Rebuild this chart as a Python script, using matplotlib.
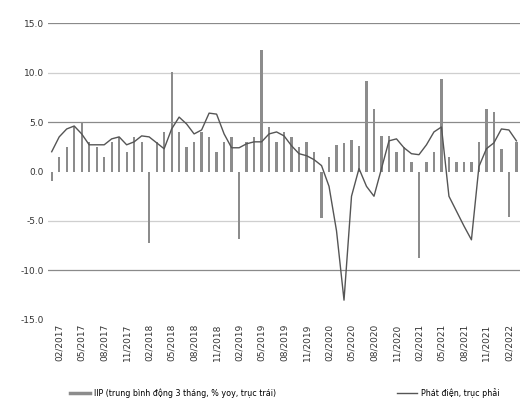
import matplotlib
matplotlib.use("Agg")
import matplotlib.pyplot as plt
from matplotlib.lines import Line2D
import numpy as np

# Monthly series, Jan 2017 .. Mar 2022
months = [f"{m:02d}/{y}" for y in range(2017, 2023) for m in range(1, 13)][:63]

bar_values = [
    -1.0, 1.5, 2.5, 4.5, 5.0, 3.0, 2.5, 1.5, 3.0, 3.5, 2.0, 3.5,
    3.0, -7.2, 3.0, 4.0, 10.1, 4.0, 2.5, 3.0, 4.0, 3.5, 2.0, 3.0,
    3.5, -6.8, 3.0, 3.5, 12.3, 4.5, 3.0, 4.0, 3.5, 2.5, 3.0, 2.0,
    -4.7, 1.5, 2.7, 2.9, 3.2, 2.6, 9.1, 6.3, 3.6, 3.6, 2.0, 2.5,
    1.0, -8.7, 1.0, 2.0, 9.3, 1.5, 1.0, 1.0, 1.0, 3.0, 6.3, 6.0,
    2.3, -4.6, 3.0,
]

line_values = [
    2.0, 3.5, 4.3, 4.6, 3.8, 2.7, 2.7, 2.7, 3.3, 3.5, 2.7, 3.0,
    3.6, 3.5, 2.9, 2.3, 4.3, 5.5, 4.8, 3.8, 4.2, 5.9, 5.8, 3.8,
    2.4, 2.4, 2.8, 3.0, 3.0, 3.8, 4.0, 3.6, 2.6, 1.8, 1.6, 1.2,
    0.6, -1.5, -6.0, -13.0, -2.5, 0.3, -1.5, -2.5, 0.3, 3.1, 3.3, 2.4,
    1.8, 1.7, 2.7, 4.0, 4.5, -2.5, -4.0, -5.5, -6.9, 0.5, 2.3, 2.9,
    4.3, 4.2, 3.1,
]

tick_idx = list(range(1, 63, 3))
tick_labels = [months[i] for i in tick_idx]
y_ticks = [15, 10, 5, 0, -5, -10, -15]

legend_labels = ["IIP (trung bình động 3 tháng, % yoy, trục trái)",
                 "Phát điện, trục phải"]

plt.rcParams['font.family'] = ['DejaVu Sans']

fig = plt.figure(figsize=(5.27, 4.05), dpi=100)
ax = fig.add_axes([0.091, 0.210, 0.896, 0.733])

x = np.arange(len(months))
ax.bar(x, bar_values, width=0.3, color="#8c8c8c", zorder=2)
ax.plot(x, line_values, color="#555555", lw=1.0, zorder=3)

ax.set_xlim(-0.5, 62.5)
ax.set_ylim(-15, 15)
ax.set_yticks(y_ticks)
ax.set_yticklabels([f"{v:.1f}" for v in y_ticks], fontsize=6.5, color="#333333")
ax.set_xticks(tick_idx)
ax.set_xticklabels(tick_labels, rotation=90, fontsize=6.5, color="#333333")
ax.tick_params(axis="both", length=0, pad=3)

for v in y_ticks:
    if v in (15, 5, -10):
        ax.axhline(v, color="#8a8a8a", lw=0.9, zorder=1)
    elif v in (10, -5):
        ax.axhline(v, color="#cfcfcf", lw=0.9, zorder=1)

for s in ax.spines.values():
    s.set_visible(False)

handles = [Line2D([0], [0], color="#8c8c8c", lw=2.5),
           Line2D([0], [0], color="#555555", lw=1.0)]
fig.legend(handles, legend_labels, loc="lower center", ncol=2,
           bbox_to_anchor=(0.54, 0.0), frameon=False, fontsize=5.8,
           columnspacing=15, handlelength=2.5, handletextpad=0.5)

fig.savefig("out.png", dpi=100)
